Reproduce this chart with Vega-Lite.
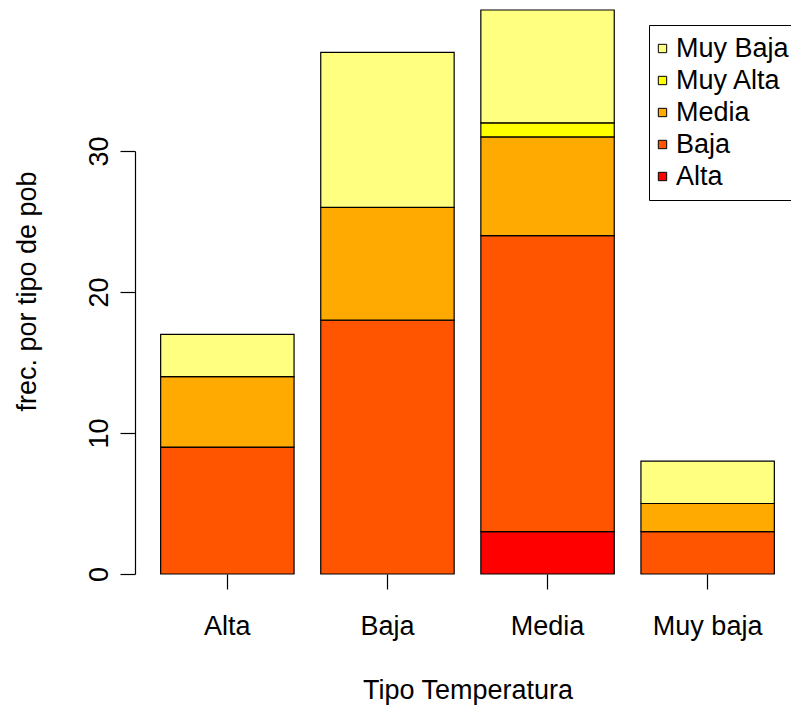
{
  "$schema": "https://vega.github.io/schema/vega-lite/v6.json",
  "autosize": {"type": "none"},
  "width": 647,
  "height": 423,
  "padding": {"left": 144, "top": 151, "right": 0, "bottom": 131},
  "background": "white",
  "config": {
    "view": {"stroke": null},
    "font": "Liberation Sans",
    "axis": {"labelFont": "Liberation Sans", "titleFont": "Liberation Sans", "labelColor": "black", "titleColor": "black", "tickColor": "black", "domainColor": "black", "titleFontWeight": "normal", "grid": false}
  },
  "data": {
    "values": [
      {"temp": "Alta", "pob": "Baja", "n": 9, "ord": 2},
      {"temp": "Alta", "pob": "Media", "n": 5, "ord": 3},
      {"temp": "Alta", "pob": "Muy Baja", "n": 3, "ord": 5},
      {"temp": "Baja", "pob": "Baja", "n": 18, "ord": 2},
      {"temp": "Baja", "pob": "Media", "n": 8, "ord": 3},
      {"temp": "Baja", "pob": "Muy Baja", "n": 11, "ord": 5},
      {"temp": "Media", "pob": "Alta", "n": 3, "ord": 1},
      {"temp": "Media", "pob": "Baja", "n": 21, "ord": 2},
      {"temp": "Media", "pob": "Media", "n": 7, "ord": 3},
      {"temp": "Media", "pob": "Muy Alta", "n": 1, "ord": 4},
      {"temp": "Media", "pob": "Muy Baja", "n": 8, "ord": 5},
      {"temp": "Muy baja", "pob": "Baja", "n": 3, "ord": 2},
      {"temp": "Muy baja", "pob": "Media", "n": 2, "ord": 3},
      {"temp": "Muy baja", "pob": "Muy Baja", "n": 3, "ord": 5}
    ]
  },
  "mark": {"type": "bar", "stroke": "black", "strokeWidth": 1.2, "clip": false},
  "encoding": {
    "x": {
      "field": "temp", "type": "nominal", "sort": ["Alta", "Baja", "Media", "Muy baja"],
      "scale": {"paddingInner": 0.1667, "paddingOuter": 0.104},
      "axis": {"title": "Tipo Temperatura", "titleFontSize": 27, "labelFontSize": 27, "labelAngle": 0, "domain": false, "tickSize": 15, "tickWidth": 1.2, "labelPadding": 24, "titlePadding": 38}
    },
    "y": {
      "field": "n", "type": "quantitative", "aggregate": "sum", "stack": "zero",
      "scale": {"domain": [0, 30], "nice": false, "zero": true},
      "axis": {"title": "frec. por tipo de pob", "titleFontSize": 27, "labelFontSize": 27, "values": [0, 10, 20, 30], "tickSize": 15, "tickWidth": 1.2, "domainWidth": 1.2, "offset": 9, "labelAngle": -90, "labelAlign": "center", "labelBaseline": "alphabetic", "labelPadding": 13, "titleY": 140, "titleX": -108, "titleBaseline": "middle"}
    },
    "color": {
      "field": "pob", "type": "nominal",
      "scale": {"domain": ["Muy Baja", "Muy Alta", "Media", "Baja", "Alta"], "range": ["#FFFF80", "#FFFF00", "#FFAA00", "#FF5500", "#FF0000"]},
      "legend": {"title": null, "orient": "none", "legendX": 505, "legendY": -126, "strokeColor": "black", "fillColor": "white", "padding": 10, "symbolType": "square", "symbolSize": 70, "symbolStrokeColor": "black", "symbolStrokeWidth": 1, "symbolOpacity": 1, "labelFontSize": 27, "labelColor": "black", "labelFont": "Liberation Sans", "rowPadding": 4, "labelOffset": 0, "symbolOffset": -10}
    },
    "order": {"field": "ord", "type": "quantitative"}
  }
}
